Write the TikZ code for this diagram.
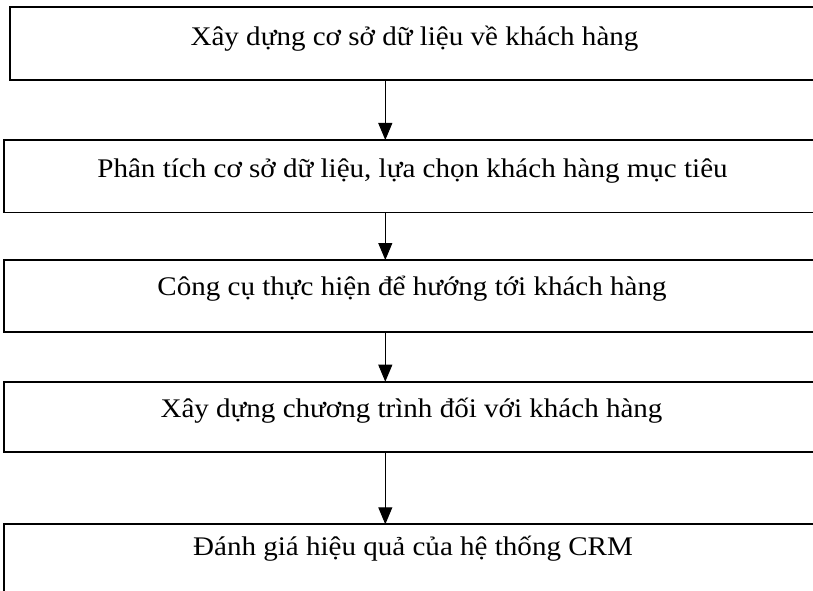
\documentclass[tikz,border=0pt]{standalone}
\usepackage{fontspec}
\setmainfont{Liberation Serif}
\usetikzlibrary{arrows.meta}
\newcommand{\widetext}[1]{\scalebox{1.08}[1]{#1}}
\begin{document}
\begin{tikzpicture}[x=1pt,y=-1pt,
  stepbox/.style={draw=black, line width=1.8pt, rectangle, inner sep=0pt, outer sep=0pt, anchor=north west, minimum width=#1},
  stepbox/.default=830pt,
  lbl/.style={anchor=base, inner sep=0pt, font=\fontsize{26.9}{31}\selectfont},
  arr/.style={draw=black, line width=1pt, -{Triangle[width=14pt,length=17pt]}}]
\useasboundingbox (0,0) rectangle (813,591);
\clip (0,0) rectangle (813,591);
\node[stepbox=820pt, minimum height=72.7pt] (b1) at (10,7.3) {};
\node[stepbox, minimum height=72.5pt] (b2) at (4,140) {};
\node[stepbox, minimum height=72.3pt] (b3) at (4,260) {};
\node[stepbox, minimum height=70.3pt] (b4) at (4,381.7) {};
\node[stepbox, minimum height=120pt] (b5) at (4,524.3) {};
\node[lbl] (t1) at (414.5,45.7) {\widetext{Xây dựng cơ sở dữ liệu về khách hàng}};
\node[lbl] (t2) at (412.5,177.3) {\widetext{Phân tích cơ sở dữ liệu, lựa chọn khách hàng mục tiêu}};
\node[lbl] (t3) at (412,295) {\widetext{Công cụ thực hiện để hướng tới khách hàng}};
\node[lbl] (t4) at (411.5,417.7) {\widetext{Xây dựng chương trình đối với khách hàng}};
\node[lbl] (t5) at (413,555.5) {\widetext{Đánh giá hiệu quả của hệ thống CRM}};
\coordinate (ax) at (385.3,0);
\draw[arr] (ax |- b1.south) -- (ax |- b2.north);
\draw[arr] (ax |- b2.south) -- (ax |- b3.north);
\draw[arr] (ax |- b3.south) -- (ax |- b4.north);
\draw[arr] (ax |- b4.south) -- (ax |- b5.north);
\end{tikzpicture}
\end{document}
